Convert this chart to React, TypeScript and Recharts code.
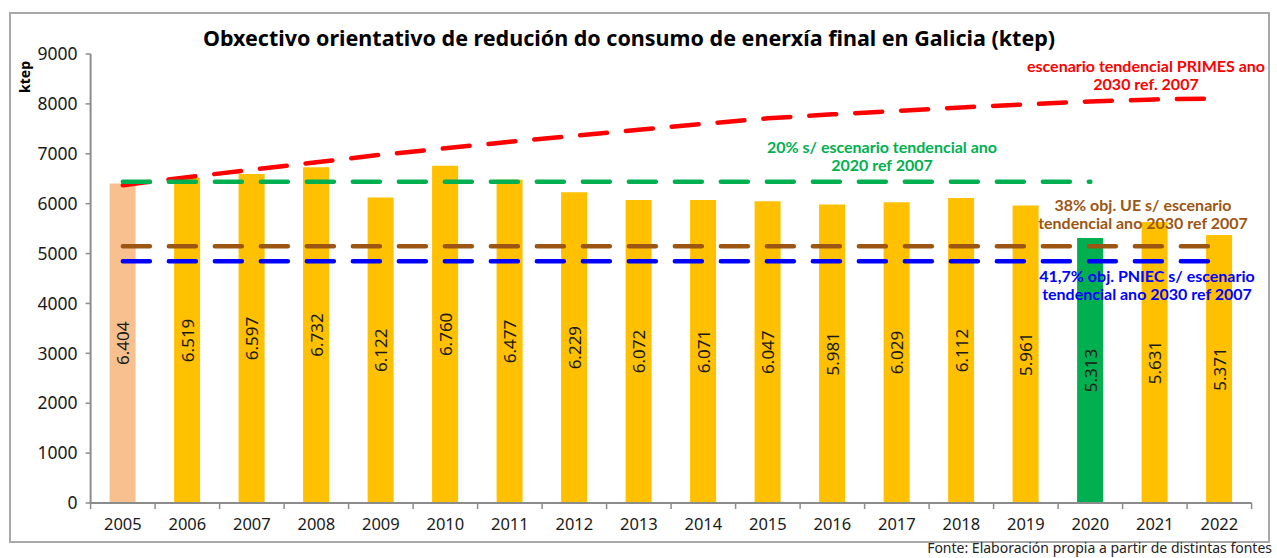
import React from "react";
import { ComposedChart, Bar, Line, XAxis, YAxis, Cell, LabelList } from "recharts";

// datos (ktep)
const anos = ["2005", "2006", "2007", "2008", "2009", "2010", "2011", "2012", "2013", "2014", "2015", "2016", "2017", "2018", "2019", "2020", "2021", "2022"];
const consumo = [6404, 6519, 6597, 6732, 6122, 6760, 6477, 6229, 6072, 6071, 6047, 5981, 6029, 6112, 5961, 5313, 5631, 5371];
const primes = [6370, 6530, 6680, 6830, 6980, 7110, 7240, 7360, 7480, 7600, 7710, 7790, 7860, 7930, 7990, 8050, 8090, 8110];
const obx2020 = [6440, 6440, 6440, 6440, 6440, 6440, 6440, 6440, 6440, 6440, 6440, 6440, 6440, 6440, 6440, 6440, null, null];
const obxUE = [5145, 5145, 5145, 5145, 5145, 5145, 5145, 5145, 5145, 5145, 5145, 5145, 5145, 5145, 5145, 5145, 5145, 5145];
const obxPNIEC = [4845, 4845, 4845, 4845, 4845, 4845, 4845, 4845, 4845, 4845, 4845, 4845, 4845, 4845, 4845, 4845, 4845, 4845];
const yTicks = [0, 1000, 2000, 3000, 4000, 5000, 6000, 7000, 8000, 9000];

const W = 1277;
const H = 558;
const PLOT_LEFT = 90.6;
const PLOT_RIGHT = 1251.6;
const PLOT_TOP = 54;
const PLOT_BOTTOM = 503;
const X_AXIS_H = 30;
const band = (PLOT_RIGHT - PLOT_LEFT) / anos.length;

const data = anos.map((ano, i) => ({
    ano,
    consumo: consumo[i],
    primes: primes[i],
    obx2020: obx2020[i],
    obxUE: obxUE[i],
    obxPNIEC: obxPNIEC[i],
}));

const barColor = (ano: string) => (ano === "2005" ? "#F8C08E" : ano === "2020" ? "#00B050" : "#FFC000");
const fmt = (v: number) => String(v).replace(/\B(?=(\d{3})+(?!\d))/g, ".");

const axisGrey = "#8C8C8C";
const dash = "27 19";

const XTick = ({ x, y, payload, index }: any) => (
    <g>
        <line x1={x - band / 2} x2={x - band / 2} y1={y} y2={y + 6} stroke={axisGrey} strokeWidth={1.5} />
        {index === anos.length - 1 && (
            <line x1={x + band / 2} x2={x + band / 2} y1={y} y2={y + 6} stroke={axisGrey} strokeWidth={1.5} />
        )}
        <text x={x} y={y + 27} textAnchor="middle" fontSize={16.5} fill="#1a1a1a" fontFamily="Noto Sans">
            {payload.value}
        </text>
    </g>
);

const BarValue = ({ x, y, width, height, value }: any) => {
    const cx = x + width / 2;
    const cy = y + height / 2;
    return (
        <text
            x={cx}
            y={cy}
            transform={`rotate(-90 ${cx} ${cy})`}
            textAnchor="middle"
            dominantBaseline="central"
            fontSize={17}
            fontFamily="Noto Sans"
            fill="#1a1a1a"
        >
            {fmt(value)}
        </text>
    );
};

const Note = ({ x, y, lines, color }: { x: number; y: number; lines: string[]; color: string }) => (
    <text x={x} y={y} textAnchor="middle" fontFamily="Lato" fontWeight={700} fontSize={16} fill={color}>
        {lines.map((l, i) => (
            <tspan key={i} x={x} dy={i === 0 ? 0 : 17.5}>
                {l}
            </tspan>
        ))}
    </text>
);

export default function App() {
    return (
        <div style={{ position: "absolute", left: 0, top: 0, width: W, height: H, background: "#fff" }}>
            <div
                style={{
                    position: "absolute",
                    left: 9,
                    top: 12,
                    width: 1261,
                    height: 531,
                    border: "2px solid #A8A8A8",
                    boxSizing: "border-box",
                }}
            />
            <div style={{ position: "absolute", left: 0, top: 0 }}>
                <ComposedChart
                    width={W}
                    height={H}
                    data={data}
                    margin={{ top: PLOT_TOP, right: W - PLOT_RIGHT, bottom: H - PLOT_BOTTOM - X_AXIS_H, left: 0 }}
                    barSize={26}
                >
                    <XAxis
                        dataKey="ano"
                        height={X_AXIS_H}
                        tick={<XTick />}
                        tickLine={false}
                        tickSize={0}
                        tickMargin={0}
                        interval={0}
                        axisLine={{ stroke: axisGrey, strokeWidth: 2 }}
                    />
                    <YAxis
                        width={PLOT_LEFT}
                        domain={[0, 9000]}
                        ticks={yTicks}
                        interval={0}
                        tickSize={5}
                        tickMargin={8}
                        tickLine={{ stroke: axisGrey, strokeWidth: 1.5 }}
                        axisLine={{ stroke: axisGrey, strokeWidth: 2 }}
                        tick={{ fontSize: 17.5, fill: "#1a1a1a", fontFamily: "Noto Sans" }}
                    />
                    <Bar dataKey="consumo" isAnimationActive={false}>
                        {data.map((d) => (
                            <Cell key={d.ano} fill={barColor(d.ano)} />
                        ))}
                        <LabelList dataKey="consumo" content={<BarValue />} />
                    </Bar>
                    <Line
                        dataKey="primes"
                        stroke="#FF0000"
                        strokeWidth={4.5}
                        strokeDasharray={dash}
                        strokeLinecap="round"
                        dot={false}
                        activeDot={false}
                        isAnimationActive={false}
                    />
                    <Line
                        dataKey="obx2020"
                        stroke="#00B050"
                        strokeWidth={4.5}
                        strokeDasharray={dash}
                        strokeLinecap="round"
                        dot={false}
                        activeDot={false}
                        isAnimationActive={false}
                    />
                    <Line
                        dataKey="obxUE"
                        stroke="#9C5512"
                        strokeWidth={4.5}
                        strokeDasharray={dash}
                        strokeLinecap="round"
                        dot={false}
                        activeDot={false}
                        isAnimationActive={false}
                    />
                    <Line
                        dataKey="obxPNIEC"
                        stroke="#0000FF"
                        strokeWidth={4.5}
                        strokeDasharray={dash}
                        strokeLinecap="round"
                        dot={false}
                        activeDot={false}
                        isAnimationActive={false}
                    />
                </ComposedChart>
            </div>
            <svg width={W} height={H} style={{ position: "absolute", left: 0, top: 0, pointerEvents: "none" }}>
                <text x={629} y={46} textAnchor="middle" fontFamily="Noto Sans" fontWeight={700} fontSize={21.5} fill="#000">
                    Obxectivo orientativo de redución do consumo de enerxía final en Galicia (ktep)
                </text>
                <text
                    x={24}
                    y={77}
                    transform="rotate(-90 24 77)"
                    textAnchor="middle"
                    dominantBaseline="central"
                    fontFamily="Noto Sans"
                    fontWeight={700}
                    fontSize={14}
                    fill="#000"
                >
                    ktep
                </text>
                <Note x={1146} y={72} color="#FF0000" lines={["escenario tendencial PRIMES ano", "2030 ref. 2007"]} />
                <Note x={882} y={153} color="#00B050" lines={["20% s/ escenario tendencial ano", "2020 ref 2007"]} />
                <Note x={1143} y={211} color="#9C5512" lines={["38% obj. UE s/ escenario", "tendencial ano 2030 ref 2007"]} />
                <Note x={1147} y={282} color="#0000FF" lines={["41,7% obj. PNIEC s/ escenario", "tendencial ano 2030 ref 2007"]} />
                <text x={1272} y={553} textAnchor="end" fontFamily="Noto Sans" fontSize={14} fill="#222">
                    Fonte: Elaboración propia a partir de distintas fontes
                </text>
            </svg>
        </div>
    );
}
